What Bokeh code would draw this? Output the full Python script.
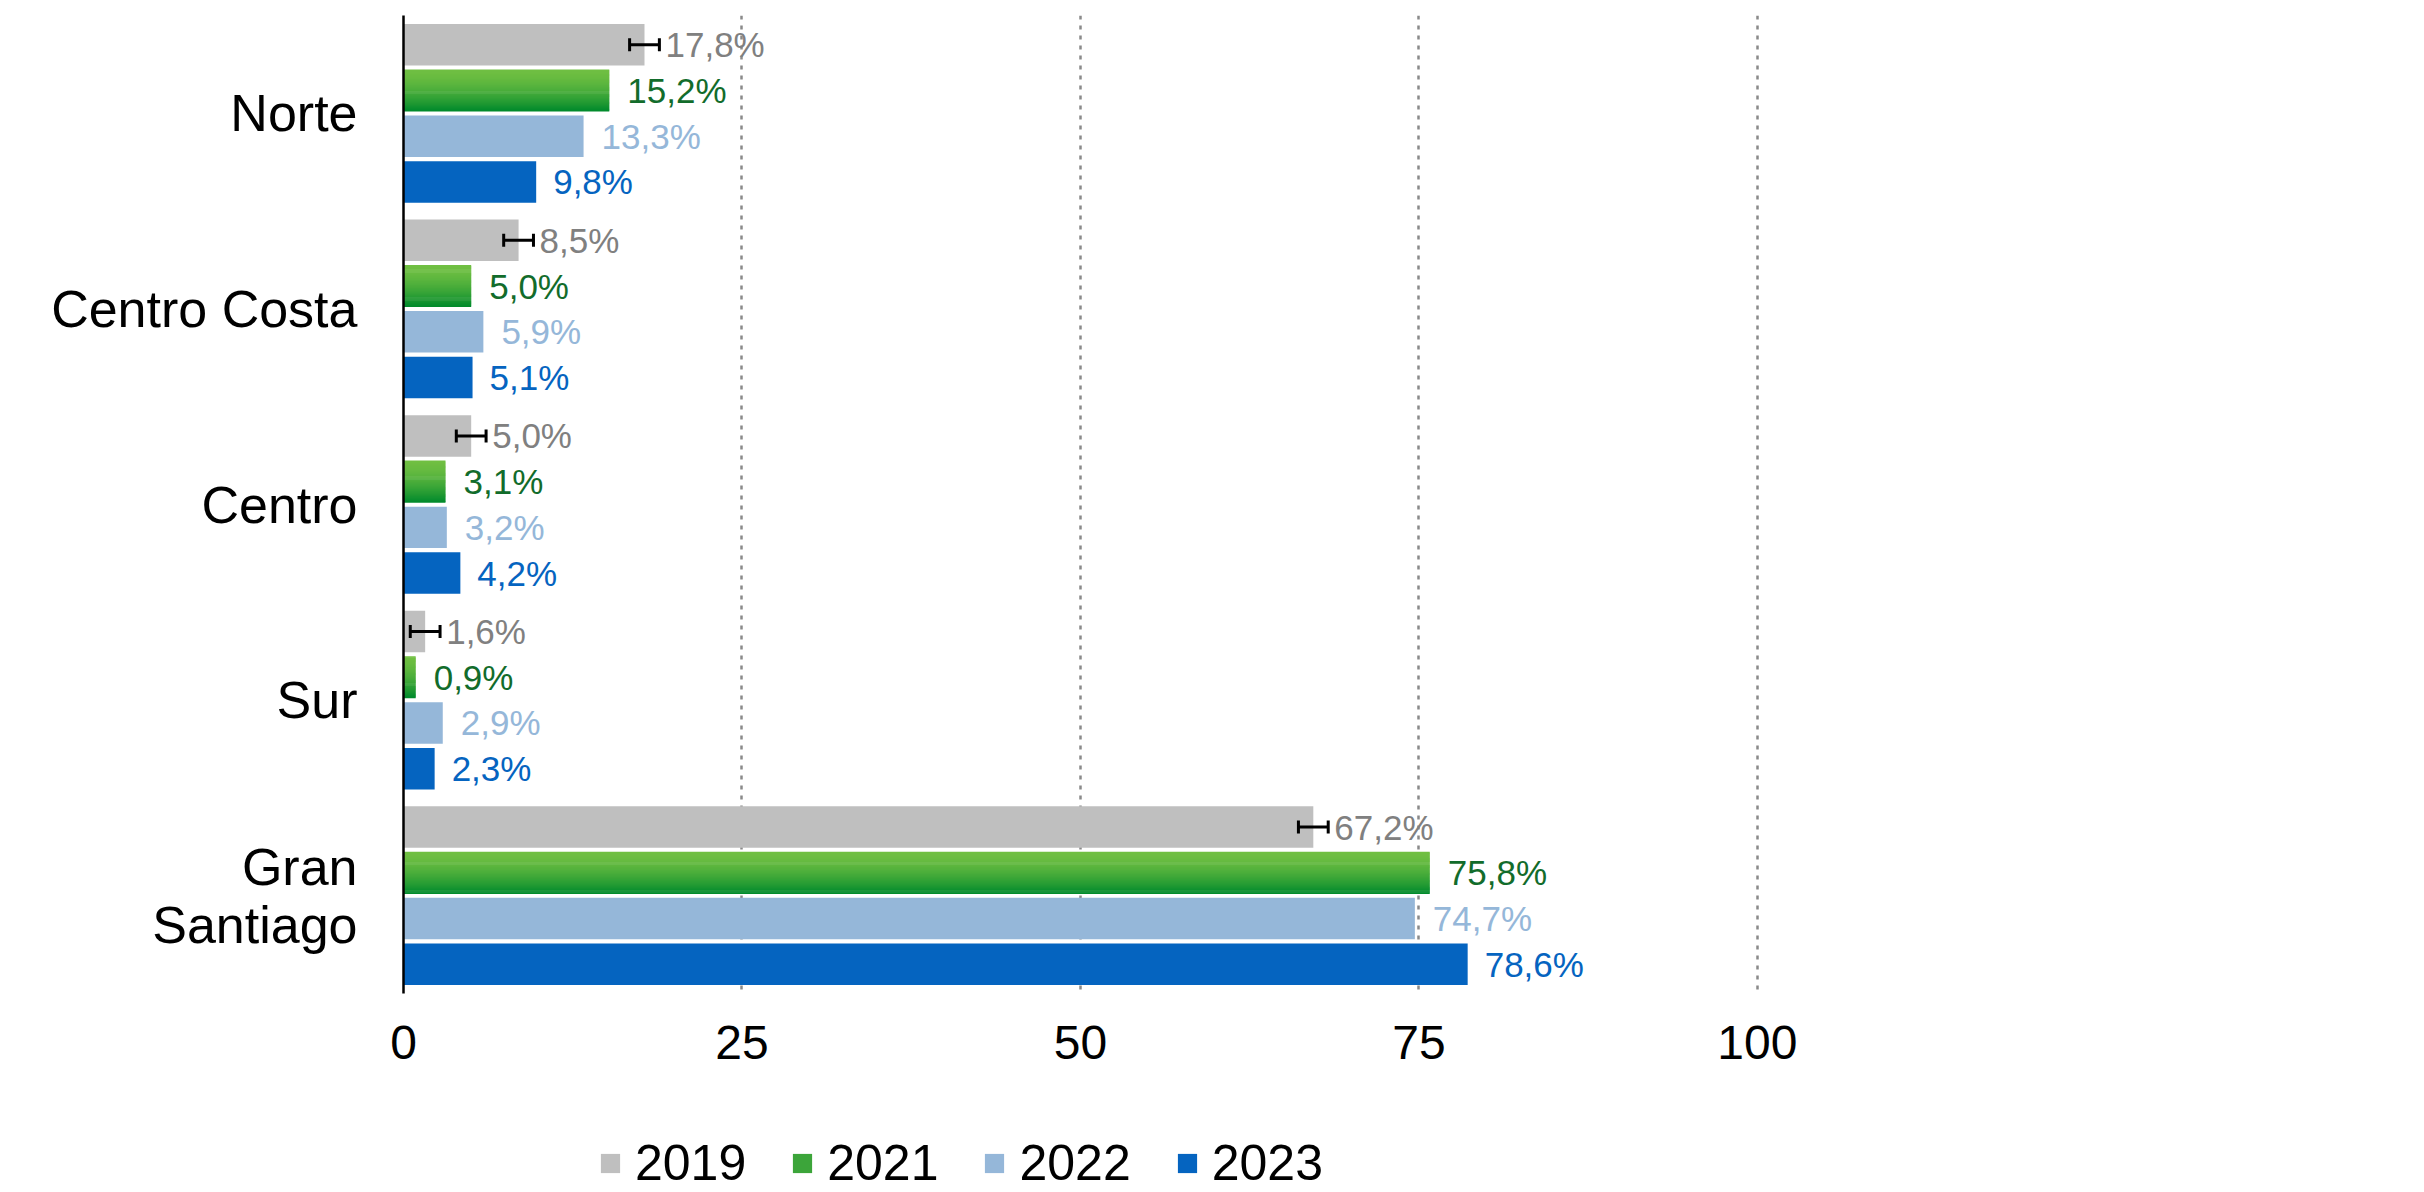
from bokeh.plotting import figure
from bokeh.layouts import column
from bokeh.models import (Range1d, FixedTicker, ColumnDataSource, Whisker, TeeHead,
                          Legend, LegendItem)
from bokeh.embed import file_html
from bokeh.resources import INLINE
from bokeh.core.properties import value

# ---------------- data ----------------
regions = ["Norte", "Centro Costa", "Centro", "Sur", "Gran\nSantiago"]
years = ["2019", "2021", "2022", "2023"]
v2019 = [17.8, 8.5, 5.0, 1.6, 67.2]
v2021 = [15.2, 5.0, 3.1, 0.9, 75.8]
v2022 = [13.3, 5.9, 3.2, 2.9, 74.7]
v2023 = [9.8, 5.1, 4.2, 2.3, 78.6]
err2019 = [1.1, 1.1, 1.1, 1.1, 1.1]
x_ticks = [0, 25, 50, 75, 100]

# ---------------- styling ----------------
FONT = "Liberation Sans"
C2019 = "#BFBFBF"
C2021 = "#3CA53A"
C2022 = "#95B7D9"
C2023 = "#0564C0"
T2019 = "#808080"
T2021 = "#126C2B"
T2022 = "#95B7D9"
T2023 = "#0564C0"
G_TOP = (0x70, 0xBF, 0x42)
G_BOT = (0x00, 0x8A, 0x2C)

PITCH = 0.2338      # bar pitch in group units
BAR_H = 0.212       # bar height in group units
N_STRIPES = 40

W = 2416
H1 = 1110
H2 = 82

p = figure(width=W, height=H1, output_backend="svg", toolbar_location=None,
           x_range=Range1d(0, 147.5), y_range=Range1d(4.5, -0.5),
           min_border_left=403, min_border_right=16, min_border_top=15,
           min_border_bottom=H1 - 993)
p.outline_line_color = None
p.background_fill_color = "white"
p.border_fill_color = "white"

idx = list(range(len(regions)))


def ys(s):
    return [g + (s - 1.5) * PITCH for g in idx]


# gray 2019
p.hbar(y=ys(0), right=v2019, left=0, height=BAR_H, fill_color=C2019, line_color=None)

# green 2021 with vertical gradient (stripes)
gy, gr, gc = [], [], []
sh = BAR_H / N_STRIPES
for g, v in zip(idx, v2021):
    top = g - 0.5 * PITCH - BAR_H / 2
    for k in range(N_STRIPES):
        t = (k + 0.5) / N_STRIPES
        t = t ** 1.6
        col = tuple(int(round(a + (b - a) * t)) for a, b in zip(G_TOP, G_BOT))
        gy.append(top + (k + 0.5) * sh)
        gr.append(v)
        gc.append("#%02x%02x%02x" % col)
gsrc = ColumnDataSource(dict(y=gy, right=gr, color=gc))
p.hbar(y="y", right="right", left=0, height=sh * 1.6, fill_color="color",
       line_color=None, source=gsrc)

p.hbar(y=ys(2), right=v2022, left=0, height=BAR_H, fill_color=C2022, line_color=None)
p.hbar(y=ys(3), right=v2023, left=0, height=BAR_H, fill_color=C2023, line_color=None)

# error bars on 2019
esrc = ColumnDataSource(dict(base=ys(0),
                             lower=[v - e for v, e in zip(v2019, err2019)],
                             upper=[v + e for v, e in zip(v2019, err2019)]))
wh = Whisker(base="base", lower="lower", upper="upper", dimension="width", source=esrc,
             line_color="black", line_width=3, level="annotation",
             upper_head=TeeHead(size=13, line_width=3, line_color="black"),
             lower_head=TeeHead(size=13, line_width=3, line_color="black"))
p.add_layout(wh)


def fmt(v):
    return ("%.1f" % v).replace(".", ",") + "%"


for s, (vals, col, off) in enumerate([(v2019, T2019, 21), (v2021, T2021, 18),
                                      (v2022, T2022, 18), (v2023, T2023, 17)]):
    p.text(x=vals, y=ys(s), text=[fmt(v) for v in vals], x_offset=off,
           text_align="left", text_baseline="middle", text_font=value(FONT),
           text_font_size="35px", text_color=col)

# axes
p.xaxis.ticker = FixedTicker(ticks=x_ticks)
p.xaxis.axis_line_color = None
p.xaxis.major_tick_line_color = None
p.xaxis.minor_tick_line_color = None
p.xaxis.major_label_text_font = FONT
p.xaxis.major_label_text_font_size = "48px"
p.xaxis.major_label_text_color = "black"
p.xaxis.major_label_standoff = 26

p.yaxis.ticker = FixedTicker(ticks=idx)
p.yaxis.major_label_overrides = {i: regions[i] for i in idx}
p.yaxis.axis_line_color = "black"
p.yaxis.axis_line_width = 2.5
p.yaxis.major_tick_line_color = None
p.yaxis.minor_tick_line_color = None
p.yaxis.major_label_text_font = FONT
p.yaxis.major_label_text_font_size = "52px"
p.yaxis.major_label_text_color = "black"
p.yaxis.major_label_text_line_height = 1.0
p.yaxis.major_label_standoff = 40

p.ygrid.visible = False
p.xgrid.grid_line_color = "#8A8A8A"
p.xgrid.grid_line_width = 2.5
p.xgrid.grid_line_dash = "4 6"

# ---------------- legend strip ----------------
lg = figure(width=W, height=H2, output_backend="svg", toolbar_location=None,
            x_range=Range1d(0, 1), y_range=Range1d(0, 1),
            x_axis_type=None, y_axis_type=None, min_border=0)
lg.outline_line_color = None
lg.grid.visible = False
# invisible proxy renderers (outside the strip's range) that only feed the legend swatches
lrs = [lg.hbar(y=[-9], right=[0], left=[0], height=0.1, fill_color=c, line_color=None)
       for c in (C2019, C2021, C2022, C2023)]
legend = Legend(items=[LegendItem(label=y, renderers=[r]) for y, r in zip(years, lrs)],
                orientation="horizontal", location=(195, 0),
                label_text_font=FONT, label_text_font_size="50px",
                label_text_color="black", glyph_width=24, glyph_height=24,
                label_standoff=13, spacing=44, padding=0, margin=0,
                border_line_color=None, background_fill_alpha=0)
lg.add_layout(legend, "center")

layout = column(p, lg, spacing=0)
open("out.html", "w").write(file_html(layout, INLINE))
